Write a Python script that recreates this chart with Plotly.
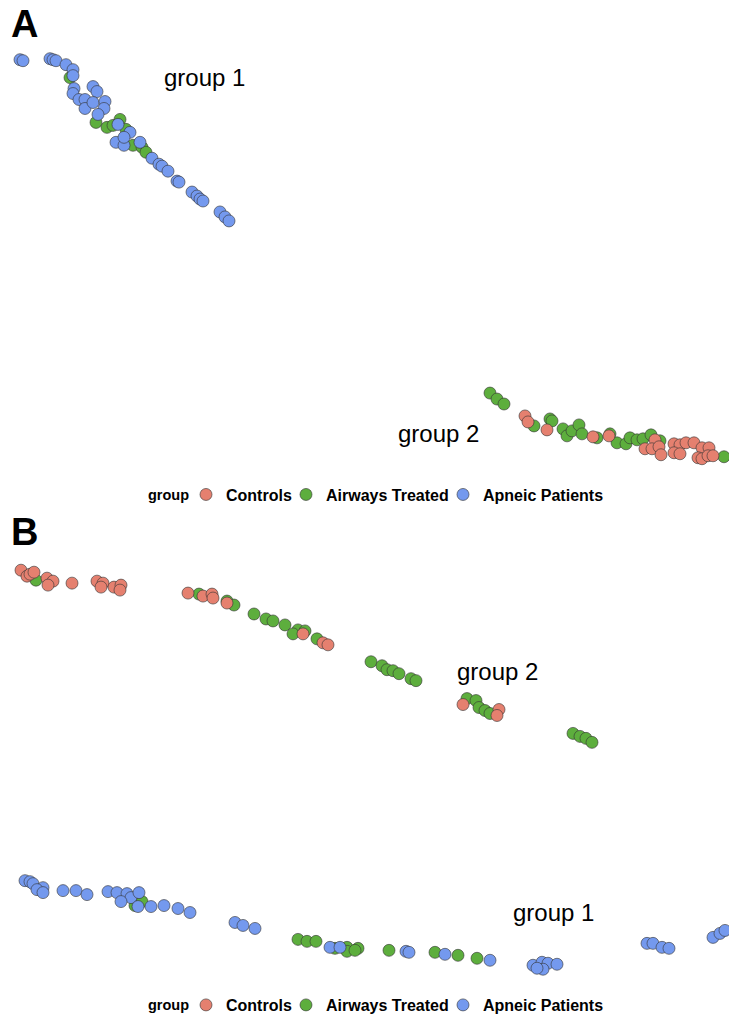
import plotly.graph_objects as go

W, H = 729, 1022

# Panel A (pixel-read coordinates)
a_ctrl_x = [525, 528, 547, 593, 609, 655, 645, 652, 659, 661, 674, 680, 686, 694, 674, 680, 702, 709, 698, 702, 708, 713]
a_ctrl_y = [418, 424, 432, 439, 438, 442, 451, 451, 449, 457, 446, 447, 445, 445, 455, 456, 450, 450, 460, 461, 458, 458]
a_air_x = [70, 96, 107, 113, 120, 126, 133, 142, 146,
           490, 497, 504, 534, 550, 552, 563, 567, 572, 579, 582, 597, 610, 617, 626, 630, 637, 643, 651, 660, 724]
a_air_y = [78, 123, 128, 126, 120, 130, 146, 148, 153,
           395, 401, 406, 428, 421, 423, 431, 438, 433, 427, 436, 440, 436, 445, 446, 440, 442, 441, 437, 443, 459]
a_apn_x = [20, 23, 50, 53, 56, 66, 73, 73, 74, 73, 79, 85, 85, 93, 97, 93, 105, 104, 98, 118, 130, 116, 124, 124, 140,
           152, 159, 162, 168, 177, 179, 192, 197, 200, 203, 220, 225, 229]
a_apn_y = [60, 61, 59, 60, 61, 65, 70, 76, 89, 94, 100, 100, 109, 87, 92, 103, 102, 109, 115, 125, 133, 143, 146, 138, 143,
           159, 165, 167, 172, 182, 183, 193, 197, 200, 202, 213, 218, 222]

# Panel B
b_ctrl_x = [21, 27, 30, 34, 47, 53, 48, 72, 97, 103, 101, 114, 121, 120, 188, 203, 212, 213, 227, 303, 323, 328, 463, 499, 497]
b_ctrl_y = [573, 579, 577, 575, 581, 584, 588, 586, 584, 586, 590, 590, 588, 593, 596, 599, 597, 601, 606, 637, 646, 648, 708, 713, 719]
b_air_x = [36, 199, 227, 234, 254, 266, 273, 285, 298, 305, 293, 317,
           371, 382, 387, 393, 399, 411, 416, 467, 476, 479, 485, 490, 573, 580, 586, 592,
           135, 142, 298, 307, 316, 335, 347, 347, 358, 355, 389, 435, 458, 477]
b_air_y = [583, 597, 604, 608, 617, 622, 624, 628, 633, 634, 637, 642,
           665, 669, 673, 674, 677, 682, 684, 702, 704, 711, 714, 717, 737, 740, 742, 746,
           910, 906, 944, 946, 946, 953, 952, 956, 953, 955, 955, 957, 960, 963]
b_apn_x = [25, 30, 33, 43, 37, 43, 63, 76, 87, 108, 117, 127, 131, 139, 121, 138, 151, 164, 178, 190, 235, 243, 255,
           330, 340, 406, 409, 445, 490, 533, 542, 548, 557, 543, 537, 647, 653, 662, 669, 713, 720, 725]
b_apn_y = [885, 886, 888, 892, 894, 897, 895, 895, 899, 896, 897, 898, 902, 897, 906, 911, 911, 910, 913, 917, 927, 930, 933,
           952, 952, 956, 957, 959, 965, 970, 967, 968, 969, 974, 973, 948, 948, 952, 953, 942, 938, 935]

names = ["Controls", "Airways Treated", "Apneic Patients"]
colors = ["#E5806F", "#5DAE3D", "#7499EE"]
legend_title = "group"

labels_text = ["group 1", "group 2", "group 2", "group 1"]
labels_x = [204, 438, 497, 553]
labels_y = [78, 436, 675, 917]

fig = go.Figure()

def add(xs, ys, idx, legend):
    fig.add_trace(go.Scatter(
        x=xs, y=ys, mode="markers", name=names[idx], legend=legend,
        marker=dict(size=12, color=colors[idx], line=dict(color="#333333", width=0.6)),
    ))

# one legend per entry so spacing can follow the reference
# drawing order: green, red, blue
add(a_air_x, a_air_y, 1, "legend2")
add(a_ctrl_x, a_ctrl_y, 0, "legend")
add(a_apn_x, a_apn_y, 2, "legend3")
add(b_air_x, b_air_y, 1, "legend5")
add(b_ctrl_x, b_ctrl_y, 0, "legend4")
add(b_apn_x, b_apn_y, 2, "legend6")

for t, x, y in zip(labels_text, labels_x, labels_y):
    fig.add_annotation(x=x, y=y, text=t, showarrow=False, xref="x", yref="y",
                       font=dict(family="Liberation Sans", size=24, color="black"))

for t, y in [("A", 24), ("B", 535)]:
    fig.add_annotation(x=9, y=y, text=t, showarrow=False, xref="x", yref="y", xanchor="left",
                       font=dict(family="Liberation Sans", size=38, color="black", weight="bold"))

legfont = dict(family="Liberation Sans", size=16, color="black", weight="bold")
titlefont = dict(family="Liberation Sans", size=14.5, color="black", weight="bold")
for ly in [497, 1010]:
    fig.add_annotation(x=146, y=ly, text=legend_title, showarrow=False, xref="x", yref="y",
                       xanchor="left", yanchor="middle", font=titlefont)

common = dict(orientation="h", xanchor="left", yanchor="middle", font=legfont,
              bgcolor="rgba(0,0,0,0)", itemwidth=30)
# text start positions of each legend entry in the reference
text_starts = [224, 324, 481]
legends = {}
for p, ly in enumerate([497, 1010]):
    for i, ts in enumerate(text_starts):
        key = "legend" if (p == 0 and i == 0) else "legend%d" % (p * 3 + i + 1)
        legends[key] = dict(x=(ts - 38) / W, y=1 - ly / H, **common)

fig.update_layout(
    width=W, height=H, margin=dict(l=0, r=0, t=0, b=0),
    plot_bgcolor="white", paper_bgcolor="white",
    xaxis=dict(range=[0, W], visible=False, domain=[0, 1]),
    yaxis=dict(range=[H, 0], visible=False, domain=[0, 1]),
    showlegend=True,
    **legends,
)

fig.write_html("out.html")
